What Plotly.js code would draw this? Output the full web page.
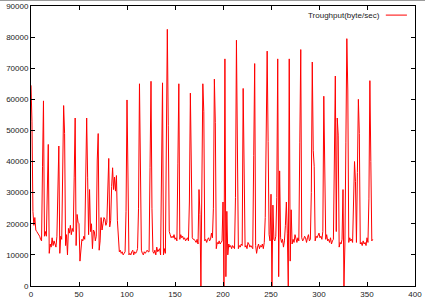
<!DOCTYPE html>
<html>
<head>
<meta charset="utf-8">
<script src="https://cdn.plot.ly/plotly-3.0.1.min.js"></script>
<style>
  html, body { margin: 0; padding: 0; background: #fff; }
  #topbar { position: absolute; left: 0; top: 0; width: 425px; height: 1px; background: #9a9a9a; }
  #chart { width: 425px; height: 305px; }
</style>
</head>
<body>
<div id="chart"></div>
<div id="topbar"></div>
<script>
// Throughput samples (byte/sec), one per time step 0..356
const throughput = [
  64500, 53000, 24000, 19500, 22000, 18000, 17500, 17000, 16500, 16000,
  15000, 14500, 38500, 59500, 16000, 17500, 16000, 38000, 45500, 10500,
  13500, 12500, 15500, 13000, 14500, 13500, 12500, 16000, 30000, 45000,
  10500, 16000, 15000, 36500, 58000, 49000, 13000, 16500, 10000, 18500,
  17000, 19500, 16500, 18500, 17500, 35000, 54000, 13000, 23000, 20500,
  20000, 8000, 13500, 15000, 14500, 16000, 15000, 44500, 54000, 35000,
  16500, 31000, 17500, 20000, 12000, 18000, 17500, 14500, 16000, 40500,
  49000, 11500, 14500, 22000, 18000, 20000, 22000, 21500, 19500, 20500,
  30500, 41000, 19000, 21000, 32000, 38000, 31000, 35000, 30500, 35500,
  21000, 15000, 11000, 11500, 10500, 11000, 10000, 10500, 11000, 24000,
  59800, 36000, 10000, 10500, 10000, 11000, 11500, 10000, 11000, 10500,
  11000, 12000, 25000, 65000, 38000, 11500, 10500, 10000, 11000, 10500,
  11000, 11500, 11000, 11000, 38000, 65800, 25000, 11000, 10500, 11500,
  10000, 12500, 11000, 11500, 12000, 10000, 38500, 65300, 10000, 12000,
  10500, 46000, 82500, 51500, 17500, 16500, 15500, 16000, 15500, 16500,
  15000, 15500, 14500, 39500, 65000, 15000, 16500, 15500, 16000, 15000,
  15500, 14500, 15000, 15500, 14500, 27000, 62000, 38000, 15500, 15000,
  15000, 14500, 14000, 15000, 13500, 31000, 23000, 0, 39000, 65000,
  56000, 14500, 15000, 14000, 15000, 15500, 14500, 15000, 17000, 15500,
  25000, 66500, 52500, 12000, 14000, 13500, 14500, 13500, 14000, 14500,
  27000, 0, 73000, 3000, 24000, 10000, 13500, 12500, 13000, 12000,
  13000, 12500, 12000, 28500, 79000, 45000, 12000, 13000, 12500, 13500,
  13000, 63500, 38000, 12500, 13000, 12000, 14000, 13500, 12500, 13000,
  12500, 12000, 42000, 71500, 13000, 10500, 12500, 13500, 12000, 13000,
  12500, 13500, 12000, 14000, 22000, 65000, 75500, 46500, 16500, 14500,
  29500, 0, 26000, 15000, 14500, 16000, 28500, 73000, 3000, 37000,
  15500, 14000, 15000, 12500, 14500, 19500, 27000, 17000, 0, 73000,
  8000, 24500, 13500, 15000, 14000, 16500, 15000, 14000, 15500, 14500,
  46000, 76000, 15500, 14500, 15000, 16000, 15500, 14000, 15500, 16500,
  14500, 15000, 30000, 72000, 43500, 38500, 14500, 16000, 15500, 16500,
  17000, 15500, 16000, 15000, 17500, 61000, 37000, 15000, 16500, 14500,
  15000, 14000, 15500, 13500, 14500, 15000, 40500, 67500, 17500, 54000,
  48500, 12500, 14000, 13500, 15000, 31000, 0, 13500, 46000, 79500,
  63000, 14000, 15500, 14500, 15000, 14000, 27000, 40000, 33500, 14000,
  36500, 60000, 49000, 13500, 14000, 13000, 14500, 13500, 14000, 13000,
  15500, 14000, 28000, 66000, 40000, 14500, 15000
];
const timeSteps = throughput.map((_, i) => i);
const seriesName = 'Troughput(byte/sec)';
const xTicks = [0, 50, 100, 150, 200, 250, 300, 350, 400];
const yTicks = [0, 10000, 20000, 30000, 40000, 50000, 60000, 70000, 80000, 90000];

const axisFont = { family: 'Liberation Sans, Arial, sans-serif', size: 8, color: '#222' };

const trace = {
  x: timeSteps,
  y: throughput,
  type: 'scatter',
  mode: 'lines',
  name: seriesName,
  line: { color: '#ff0000', width: 1 },
  hoverinfo: 'skip'
};

const layout = {
  width: 425,
  height: 305,
  margin: { l: 31, r: 10, t: 6, b: 19, pad: 0 },
  paper_bgcolor: '#ffffff',
  plot_bgcolor: '#ffffff',
  showlegend: false,
  xaxis: {
    range: [0, 400],
    tickvals: xTicks,
    ticktext: xTicks.map(String),
    ticks: 'inside',
    ticklen: 4,
    tickcolor: '#000',
    mirror: 'allticks',
    showline: true,
    linecolor: '#000',
    linewidth: 1,
    showgrid: false,
    zeroline: false,
    tickfont: axisFont,
    fixedrange: true
  },
  yaxis: {
    range: [0, 90000],
    tickvals: yTicks,
    ticktext: yTicks.map(String),
    ticks: 'inside',
    ticklen: 4,
    tickcolor: '#000',
    mirror: 'allticks',
    showline: true,
    linecolor: '#000',
    linewidth: 1,
    showgrid: false,
    zeroline: false,
    tickfont: axisFont,
    fixedrange: true
  },
  annotations: [{
    xref: 'paper', yref: 'paper',
    x: 0.914, y: 0.9675,
    xanchor: 'right', yanchor: 'middle',
    text: seriesName,
    showarrow: false,
    font: axisFont
  }],
  shapes: [{
    type: 'line', xref: 'paper', yref: 'paper',
    x0: 0.924, x1: 0.979, y0: 0.9675, y1: 0.9675,
    line: { color: '#ff0000', width: 1 }
  }]
};

Plotly.newPlot('chart', [trace], layout, { displayModeBar: false, staticPlot: true });
</script>
</body>
</html>
